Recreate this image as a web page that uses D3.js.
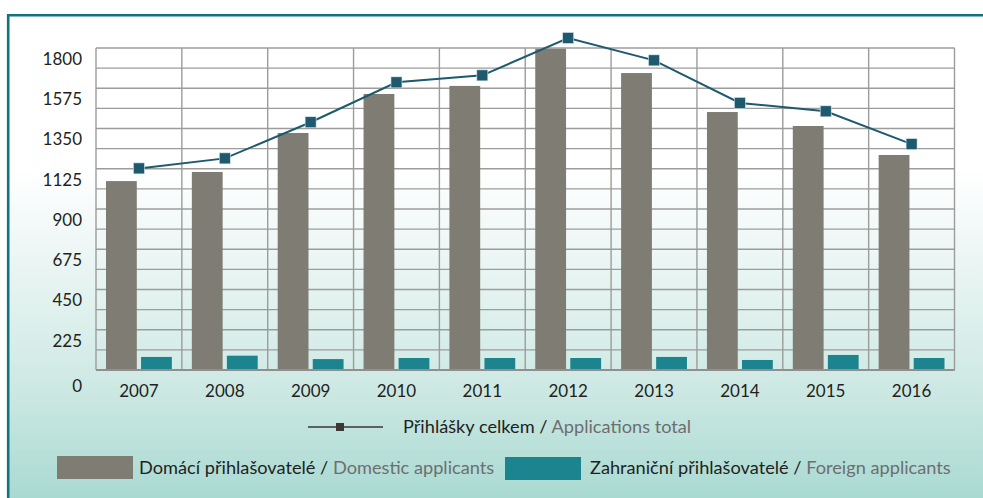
<!DOCTYPE html>
<html>
<head>
<meta charset="utf-8">
<script src="https://cdn.jsdelivr.net/npm/d3@7"></script>
<style>
  body { margin: 0; background: #fff; }
  svg { display: block; font-family: Lato, "Open Sans", sans-serif; }
</style>
</head>
<body>
<div id="canvas"></div>
<script>
const years = ['2007', '2008', '2009', '2010', '2011', '2012', '2013', '2014', '2015', '2016'];
const domestic = [1056, 1107, 1325, 1543, 1588, 1796, 1660, 1442, 1364, 1202];
const foreign = [73, 80, 61, 67, 67, 67, 73, 56, 84, 67];
const total = [1127, 1183, 1385, 1608, 1647, 1856, 1731, 1493, 1446, 1263];
const yTicks = [0, 225, 450, 675, 900, 1125, 1350, 1575, 1800];

const W = 983, H = 498;
const plotL = 96, plotR = 954.5, plotT = 48, plotB = 370;
const dark = '#231f20', grey = '#6d6e70';
const colDom = '#7f7c74', colFor = '#1c848e', colLine = '#1d5a6e';

const rows = years.map((y, i) => ({year: y, dom: domestic[i], fr: foreign[i], tot: total[i]}));

const svg = d3.select('#canvas')
    .append('svg')
    .attr('width', W)
    .attr('height', H);

// background gradient
const grad = svg.append('defs').append('linearGradient')
    .attr('id', 'bg')
    .attr('x1', 0).attr('y1', 0).attr('x2', 0).attr('y2', 1);
[[0, '#ffffff'], [0.32, '#ffffff'], [0.59, '#e2f2ef'], [0.76, '#cfe9e4'], [1, '#a9dad2']]
  .forEach(s => grad.append('stop').attr('offset', s[0]).attr('stop-color', s[1]));

svg.append('rect')
    .attr('x', 8).attr('y', 15)
    .attr('width', W).attr('height', H - 15)
    .attr('fill', 'url(#bg)');

// frame
svg.append('path')
    .attr('d', `M8.2,${H + 5} V15.2 H${W + 5}`)
    .attr('fill', 'none')
    .attr('stroke', '#0f7480')
    .attr('stroke-width', 2.6);

const x = d3.scaleBand()
    .domain(years)
    .range([plotL, plotR]);

const sub = d3.scaleBand()
    .domain(['dom', 'fr'])
    .range([10, x.bandwidth() - 10])
    .paddingInner(4 / 33);

const y = d3.scaleLinear()
    .domain([0, 1800])
    .range([plotB, plotT]);

// grid
const g = svg.append('g');
g.selectAll('line.h')
    .data(d3.range(0, 1800.1, 112.5))
    .enter()
    .append('line')
    .attr('class', 'h')
    .attr('x1', plotL).attr('x2', plotR)
    .attr('y1', d => y(d)).attr('y2', d => y(d))
    .attr('stroke', '#9c9c9c')
    .attr('stroke-width', 1.4);

g.selectAll('line.v')
    .data(years.concat(['end']))
    .enter()
    .append('line')
    .attr('class', 'v')
    .attr('x1', d => d === 'end' ? plotR : x(d))
    .attr('x2', d => d === 'end' ? plotR : x(d))
    .attr('y1', plotT).attr('y2', plotB)
    .attr('stroke', '#9c9c9c')
    .attr('stroke-width', 1.4);

// bars
svg.append('g').selectAll('rect')
    .data(rows)
    .enter()
    .append('rect')
    .attr('x', d => x(d.year) + sub('dom'))
    .attr('y', d => y(d.dom))
    .attr('width', sub.bandwidth())
    .attr('height', d => plotB - y(d.dom))
    .attr('fill', colDom);

svg.append('g').selectAll('rect')
    .data(rows)
    .enter()
    .append('rect')
    .attr('x', d => x(d.year) + sub('fr'))
    .attr('y', d => y(d.fr))
    .attr('width', sub.bandwidth())
    .attr('height', d => plotB - y(d.fr))
    .attr('fill', colFor);

// baseline
svg.append('line')
    .attr('x1', plotL).attr('x2', plotR)
    .attr('y1', plotB).attr('y2', plotB)
    .attr('stroke', '#8f8f8f')
    .attr('stroke-width', 2);

// total line
const cx = d => x(d.year) + x.bandwidth() / 2;
svg.append('path')
    .datum(rows)
    .attr('fill', 'none')
    .attr('stroke', colLine)
    .attr('stroke-width', 2)
    .attr('d', d3.line().x(cx).y(d => y(d.tot)));

svg.append('g').selectAll('rect')
    .data(rows)
    .enter()
    .append('rect')
    .attr('x', d => cx(d) - 5.5)
    .attr('y', d => y(d.tot) - 5.5)
    .attr('width', 11).attr('height', 11)
    .attr('fill', colLine)
    .attr('stroke', '#d8e6ea')
    .attr('stroke-width', 0.6);

// axes
const yAxis = d3.axisLeft(y)
    .tickValues(yTicks)
    .tickFormat(d3.format('d'))
    .tickSize(0)
    .tickPadding(14);
const ya = svg.append('g')
    .attr('transform', `translate(${plotL},0)`)
    .call(yAxis);
ya.select('.domain').remove();
ya.selectAll('text')
    .attr('transform', d => `translate(0,${d === 0 ? 16 : 11})`)
    .attr('fill', dark)
    .attr('font-size', 17)
    .attr('font-family', 'Lato');

const xAxis = d3.axisBottom(x).tickSize(0).tickPadding(15);
const xa = svg.append('g')
    .attr('transform', `translate(0,${plotB})`)
    .call(xAxis);
xa.select('.domain').remove();
xa.selectAll('text')
    .attr('fill', dark)
    .attr('font-size', 17)
    .attr('font-family', 'Lato');

// legend
const lg = svg.append('g').attr('font-size', 18.2);
lg.append('line')
    .attr('x1', 308).attr('x2', 383)
    .attr('y1', 427).attr('y2', 427)
    .attr('stroke', '#3b3733')
    .attr('stroke-width', 1.6);
lg.append('rect')
    .attr('x', 336).attr('y', 423)
    .attr('width', 8).attr('height', 8)
    .attr('fill', '#3b3733');
const t1 = lg.append('text').attr('x', 403).attr('y', 433);
t1.append('tspan').attr('fill', dark).text('Přihlášky celkem / ');
t1.append('tspan').attr('fill', grey).text('Applications total');

lg.append('rect')
    .attr('x', 57).attr('y', 456)
    .attr('width', 76).attr('height', 23)
    .attr('fill', colDom);
const t2 = lg.append('text').attr('x', 139).attr('y', 474);
t2.append('tspan').attr('fill', dark).text('Domácí přihlašovatelé / ');
t2.append('tspan').attr('fill', grey).text('Domestic applicants');

lg.append('rect')
    .attr('x', 505).attr('y', 457)
    .attr('width', 76).attr('height', 23)
    .attr('fill', colFor);
const t3 = lg.append('text').attr('x', 590).attr('y', 474);
t3.append('tspan').attr('fill', dark).text('Zahraniční přihlašovatelé / ');
t3.append('tspan').attr('fill', grey).text('Foreign applicants');
</script>
</body>
</html>
